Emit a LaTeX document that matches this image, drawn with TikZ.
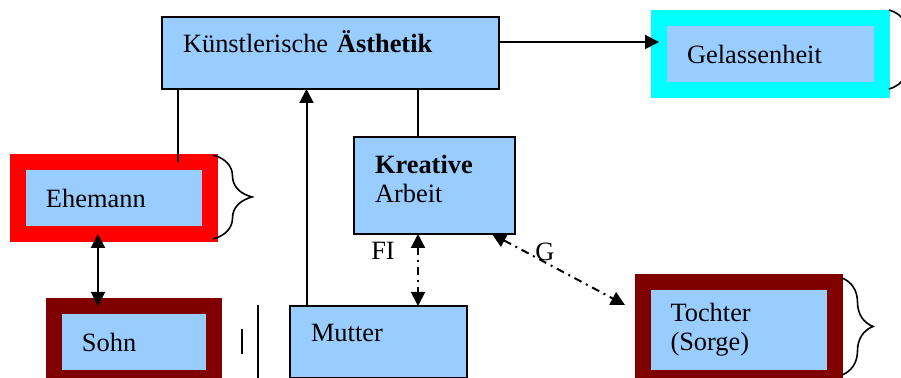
\documentclass[tikz,border=0pt]{standalone}
\usepackage{fontspec}
\setmainfont{Liberation Serif}
\usetikzlibrary{arrows.meta,calc,decorations.pathreplacing}
\definecolor{myblue}{RGB}{153,204,255}
\definecolor{myred}{RGB}{255,0,0}
\definecolor{mydarkred}{RGB}{128,0,0}
\definecolor{mycyan}{RGB}{0,255,255}

\begin{document}
\begin{tikzpicture}[x=0.5pt,y=-0.5pt,
    font=\fontsize{13.2}{14.5}\selectfont,
    card/.style={draw=black, fill=myblue, line width=1pt, outer sep=0pt, anchor=north west,
      align=left, inner xsep=10.5pt, inner ysep=0pt},
    rim/.style={card, draw=#1, line width=8pt, inner xsep=14pt},
    high/.style={text height=8pt, text depth=8pt},
    link/.style={line width=1pt},
    dashdot/.style={line width=1pt, dash pattern=on 4pt off 2.5pt on 1pt off 2.5pt},
    curly/.style={line width=0.8pt, decorate, decoration={brace, amplitude=#1}},
    >={Triangle[length=7pt,width=7pt]}]
            \useasboundingbox (0,0) rectangle (901,378);
            % boxes
            \node[card, high, text width=147.5pt, minimum height=36pt] (aes) at (162,17) {Künstlerische \textbf{Ästhetik}};
            \node[rim=mycyan, text width=83.5pt, minimum height=36pt] (gel) at (659,18) {Gelassenheit};
            \node[rim=myred, text width=68pt, minimum height=36pt] (ehe) at (18,162) {Ehemann};
            \node[rim=mydarkred, text width=52pt, minimum height=36pt] (sohn) at (54,306) {Sohn};
            \node[card, high, text width=67.5pt, minimum height=36pt] (mut) at (290,306) {Mutter};
            \node[card, text width=59.5pt, text height=9pt, text depth=20.5pt, minimum height=48.5pt] (kre) at (354,137) {\textbf{Kreative}\\Arbeit};
            \node[rim=mydarkred, text width=68pt, minimum height=48pt] (toch) at (642.5,282) {Tochter\\(Sorge)};
            % labels
            \node (fi) at (383,251) {FI};
            \node (g) at (545,252) {G};
            % connectors
            \draw[link,->] ([yshift=5.5pt]aes.east) -- ([yshift=5.5pt]aes.east -| gel.west);
            \draw[link] ([xshift=32pt]ehe.north) -- ([xshift=32pt]ehe.north |- aes.south);
            \draw[link,->] ([xshift=-36pt]mut.north) -- ([xshift=-36pt]mut.north |- aes.south);
            \draw[link] ([xshift=-8.25pt]kre.north) -- ([xshift=-8.25pt]kre.north |- aes.south);
            \draw[link,<->] ([xshift=-18pt]sohn.north) -- ([xshift=-18pt]sohn.north |- ehe.south);
            \draw[dashdot,<->] ([xshift=-8.25pt]kre.south) -- ([xshift=-8.25pt]kre.south |- mut.north);
            \draw[dashdot,<->] ([xshift=28.75pt]kre.south) -- ([xshift=-8.75pt,yshift=12.5pt]toch.west);
            % braces
            \draw[curly=19.5pt] ($(ehe.north east)+(3,-7)$) -- ($(ehe.south east)+(3,5)$);
            \draw[curly=15.5pt] ($(toch.north east)+(7.5,-4)$) -- ($(toch.south east)+(7.5,-3)$);
            \draw[curly=17pt] ($(gel.north east)+(7,-8)$) -- ($(gel.south east)+(7,-1)$);
            % strokes beside Mutter
            \draw[link] (242,329) -- (242,354);
            \draw[link] (258,305) -- (258,385);
        \end{tikzpicture}
\end{document}
